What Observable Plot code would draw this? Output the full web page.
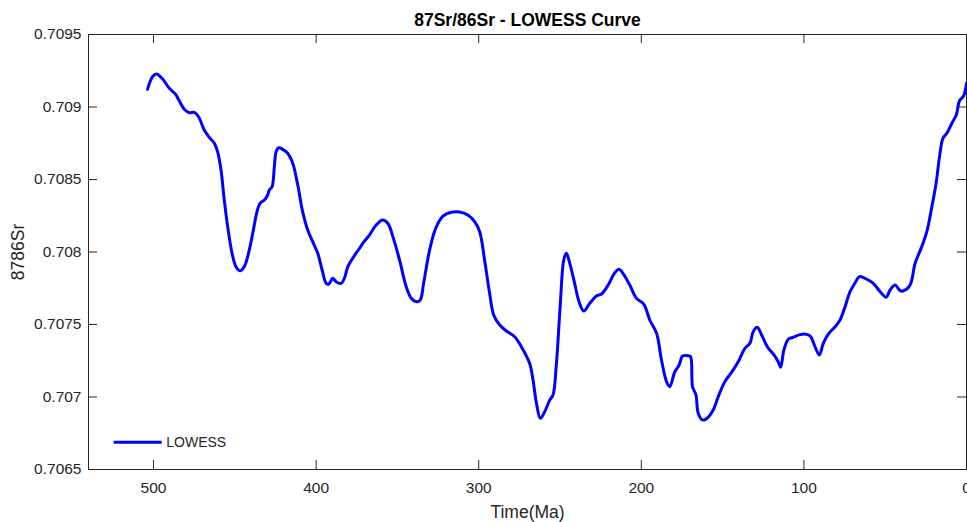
<!DOCTYPE html>
<html><head><meta charset="utf-8">
<script src="https://cdn.jsdelivr.net/npm/d3@7"></script>
<script src="https://cdn.jsdelivr.net/npm/@observablehq/plot@0.6"></script>
<style>body{margin:0;background:#fff;} #chart{width:967px;height:522px;}</style>
</head><body><div id="chart"></div>
<script>
const ageMa = [503.7,500.6,498.2,494.8,490.3,486.6,484.2,481.1,478.0,474.9,472.3,468.8,465.7,462.6,460.6,458.5,456.5,454.4,451.7,449.3,446.8,444.2,441.1,438.6,436.6,434.5,431.8,429.8,428.8,427.1,425.7,424.6,423.0,420.6,417.5,414.4,411.3,408.3,405.2,402.1,399.0,396.3,393.8,392.2,389.8,387.7,384.6,382.6,380.5,377.5,373.3,371.3,367.2,363.1,359.0,355.9,352.8,348.7,344.6,341.5,338.4,336.0,333.9,330.2,326.5,322.0,316.9,311.8,306.7,302.5,299.4,296.4,293.3,290.8,287.1,283.0,277.9,273.8,268.7,266.6,264.5,262.1,259.4,256.3,254.3,252.2,249.8,247.7,246.1,244.0,241.0,238.3,235.4,231.7,227.6,224.5,220.4,216.3,213.7,210.2,207.1,203.0,198.5,194.8,190.6,187.6,184.5,182.5,179.4,176.7,174.6,171.2,169.7,168.5,166.4,165.0,162.3,158.9,155.8,152.7,148.6,144.5,140.4,136.3,133.2,131.2,128.7,126.0,122.5,118.4,115.8,114.3,112.3,109.6,106.5,102.4,98.3,95.8,93.2,90.5,88.1,85.0,80.8,77.8,74.7,71.6,68.5,65.9,61.3,57.3,53.1,49.4,47.0,43.9,40.8,38.4,34.7,31.6,27.5,24.4,21.3,18.7,16.6,14.5,12.1,9.0,6.3,4.3,1.8,0];
const sr8786 = [0.709122,0.709209,0.709228,0.709198,0.709129,0.709090,0.709043,0.708984,0.708961,0.708963,0.708933,0.708841,0.708791,0.708750,0.708692,0.708566,0.708359,0.708174,0.707991,0.707899,0.707871,0.707899,0.708014,0.708152,0.708267,0.708336,0.708359,0.708393,0.708428,0.708450,0.708588,0.708692,0.708719,0.708708,0.708681,0.708612,0.708462,0.708278,0.708152,0.708071,0.707991,0.707876,0.707784,0.707779,0.707819,0.707795,0.707784,0.707819,0.707899,0.707957,0.708026,0.708060,0.708117,0.708186,0.708221,0.708198,0.708106,0.707945,0.707761,0.707681,0.707657,0.707669,0.707784,0.708014,0.708163,0.708248,0.708274,0.708276,0.708255,0.708209,0.708140,0.707945,0.707715,0.707566,0.707497,0.707455,0.707416,0.707347,0.707232,0.707117,0.706957,0.706853,0.706899,0.706979,0.707014,0.707232,0.707646,0.707945,0.707991,0.707922,0.707784,0.707657,0.707593,0.707646,0.707697,0.707710,0.707772,0.707857,0.707881,0.707834,0.707772,0.707681,0.707641,0.707531,0.707439,0.707255,0.707106,0.707071,0.707174,0.707221,0.707283,0.707285,0.707278,0.707071,0.707014,0.706888,0.706841,0.706860,0.706910,0.707002,0.707106,0.707170,0.707243,0.707336,0.707370,0.707450,0.707481,0.707428,0.707347,0.707290,0.707243,0.707205,0.707324,0.707398,0.707412,0.707430,0.707432,0.707416,0.707347,0.707290,0.707370,0.707434,0.707485,0.707531,0.707623,0.707726,0.707788,0.707830,0.707812,0.707784,0.707726,0.707688,0.707738,0.707772,0.707733,0.707733,0.707772,0.707922,0.708037,0.708140,0.708312,0.708474,0.708657,0.708784,0.708819,0.708888,0.708945,0.709043,0.709076,0.709163];
const xTicks = [500, 400, 300, 200, 100, 0];
const yTicks = [0.7065, 0.707, 0.7075, 0.708, 0.7085, 0.709, 0.7095];
const xDomain = [540, 0];
const yDomain = [0.7065, 0.7095];
const titleText = "87Sr/86Sr - LOWESS Curve";
const xLabel = "Time(Ma)";
const yLabel = "8786Sr";
const seriesName = "LOWESS";

const data = ageMa.map((a, i) => ({age: a, sr: sr8786[i]}));
const W = 967, H = 522, mL = 88, mR = 1, mT = 34, mB = 53;
const pw = W - mL - mR, ph = H - mT - mB;
const axisColor = "#262626";
const fmt = d3.format(".4~f");

const chart = Plot.plot({
  width: W, height: H,
  marginLeft: mL, marginRight: mR, marginTop: mT, marginBottom: mB,
  style: {fontFamily: "'Liberation Sans', Arial, Helvetica, sans-serif", fontSize: "15.5px", color: axisColor, background: "#fff"},
  x: {domain: xDomain},
  y: {domain: yDomain},
  marks: [
    Plot.frame({stroke: axisColor, strokeWidth: 1}),
    Plot.tickX(xTicks, {x: d => d, insetTop: ph - 9, stroke: axisColor}),
    Plot.tickX(xTicks, {x: d => d, insetBottom: ph - 9, stroke: axisColor}),
    Plot.tickY(yTicks, {y: d => d, insetRight: pw - 9, stroke: axisColor}),
    Plot.tickY(yTicks, {y: d => d, insetLeft: pw - 9, stroke: axisColor}),
    Plot.axisX(xTicks, {tickSize: 0, tickPadding: 12.5, label: null, tickFormat: d => String(d), fill: axisColor}),
    Plot.axisY(yTicks, {tickSize: 0, tickPadding: 7, label: null, tickFormat: fmt, fill: axisColor}),
    Plot.line(data, {x: "age", y: "sr", stroke: "#0000ff", strokeWidth: 3, curve: "catmull-rom"}),
    Plot.text([titleText], {text: d => d, frameAnchor: "top", lineAnchor: "middle", textAnchor: "middle", dy: -14, fontWeight: "bold", fontSize: 17.5, fill: "#000"}),
    Plot.text([xLabel], {text: d => d, frameAnchor: "bottom", lineAnchor: "middle", textAnchor: "middle", dy: 42.5, fontSize: 17.5, fill: axisColor}),
    Plot.text([yLabel], {text: d => d, frameAnchor: "left", lineAnchor: "middle", textAnchor: "middle", dx: -70.5, rotate: -90, fontSize: 17.5, fill: axisColor})
  ]
});

const svg = d3.select(chart);
const leg = svg.append("g");
leg.append("line").attr("x1", 113.7).attr("x2", 161.7).attr("y1", 442.3).attr("y2", 442.3)
  .attr("stroke", "#0000ff").attr("stroke-width", 3);
leg.append("text").attr("x", 166.3).attr("y", 442.3).attr("dy", "0.35em")
  .attr("text-anchor", "start").attr("font-size", 14).attr("fill", axisColor).text(seriesName);

document.getElementById("chart").appendChild(chart);
</script>
</body></html>
